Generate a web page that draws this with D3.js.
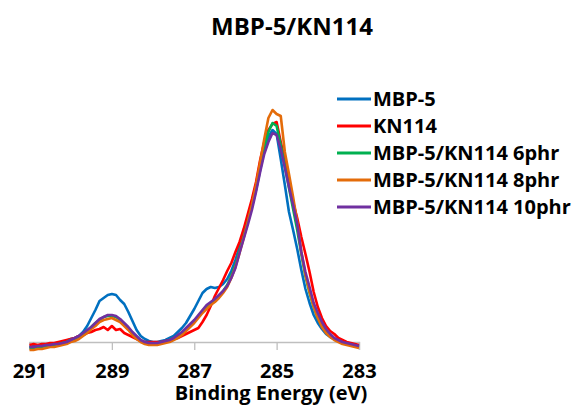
<!DOCTYPE html>
<html>
<head>
<meta charset="utf-8">
<script src="https://cdn.jsdelivr.net/npm/d3@7"></script>
<style>
body { margin: 0; background: #fff; }
text { font-family: "Open Sans", sans-serif; font-weight: bold; fill: #000; }
</style>
</head>
<body>
<svg id="chart" width="574" height="408"></svg>
<script>
// binding energy grid, 291 -> 283 eV in 0.1 eV steps
var energy = d3.range(0, 81).map(function(i){ return +(291 - i * 0.1).toFixed(1); });

var seriesNames = ["MBP-5", "KN114", "MBP-5/KN114 6phr", "MBP-5/KN114 8phr", "MBP-5/KN114 10phr"];
var seriesColors = ["#0070C0", "#FF0000", "#00B050", "#E46C0A", "#7030A0"];

var mbp5 = [-5,-4,-5,-4,-3,-3,-2,-1,0,1, 3,4,6,10,16,24,32,41,44,47,
	48,47,42,38,30,21,12,6,3,1, 0,0,1,2,4,6,10,14,19,26,
	33,41,49,53,55,54,55,58,63,71, 82,95,108,120,135,152,172,192,205,212,
	208,183,157,130,112,93,72,53,39,27, 19,13,8,5,3,1,0,-1,-2,-3, -4];
var kn114 = [-3,-2,-3,-2,-2,-1,-1,0,1,2, 3,4,6,7,9,10,12,13,15,12,
	16,12,13,9,7,5,3,1,0,0, 0,0,0,1,2,3,4,6,8,10,
	12,14,20,27,36,46,54,62,71,79, 90,100,113,128,143,160,182,200,212,218,
	220,200,182,160,140,124,105,88,70,50, 35,24,16,11,8,4,2,0,-1,-2, -3];
var p6phr = [-6,-6,-5,-5,-4,-3,-3,-2,-1,0, 2,3,5,8,11,15,19,22,25,26,
	26,25,22,18,14,9,5,2,-1,-2, -2,-2,-1,0,2,4,6,9,13,17,
	21,26,31,35,39,42,46,51,57,66, 77,91,105,120,136,154,175,195,210,219,
	216,197,176,154,133,112,88,66,49,35, 24,16,10,6,3,1,-1,-2,-3,-4, -5];
var p8phr = [-8,-8,-7,-7,-6,-5,-5,-4,-3,-2, 0,1,3,6,9,13,16,20,22,23,
	24,22,20,16,12,7,3,0,-2,-3, -3,-3,-2,-1,0,2,4,7,11,15,
	19,24,29,33,37,40,44,49,55,64, 75,89,104,120,137,157,180,203,224,232,
	228,226,190,168,145,120,90,67,50,35, 24,15,9,5,2,0,-2,-3,-4,-5, -6];
var p10phr = [-5,-5,-4,-4,-3,-3,-2,-2,-1,0, 2,4,6,9,12,15,19,23,25,27,
	27,26,23,19,15,10,6,2,0,-1, -1,-1,0,1,2,4,7,10,14,18,
	22,27,32,37,40,43,47,51,56,64, 74,89,103,117,132,150,170,188,200,209,
	207,193,174,155,137,118,90,70,55,39, 29,20,13,8,4,2,0,-1,-2,-3, -4];

var seriesValues = [mbp5, kn114, p6phr, p8phr, p10phr];
var xTicks = [291, 289, 287, 285, 283];

var svg = d3.select("#chart");

var x = d3.scaleLinear().domain([291, 283]).range([29.5, 359]);
var y = d3.scaleLinear().domain([0, 250]).range([342, 92]);

// title
svg.append("text")
	.attr("x", 292)
	.attr("y", 35)
	.attr("text-anchor", "middle")
	.style("font-size", "24px")
	.text("MBP-5/KN114");

// x axis
var xAxis = svg.append("g")
	.attr("transform", "translate(0," + y(0) + ")")
	.call(d3.axisBottom(x).tickValues(xTicks).tickSize(8).tickPadding(14).tickFormat(d3.format("d")));
xAxis.select(".domain").attr("stroke", "#BFBFBF").attr("stroke-width", 1.3);
xAxis.selectAll(".tick line").attr("stroke", "#BFBFBF").attr("stroke-width", 1.3);
xAxis.selectAll(".tick text")
	.style("font-family", "'Open Sans', sans-serif")
	.style("font-weight", "bold")
	.style("font-size", "20px")
	.attr("fill", "#000");

svg.append("text")
	.attr("x", 271)
	.attr("y", 400)
	.attr("text-anchor", "middle")
	.style("font-size", "20px")
	.text("Binding Energy (eV)");

// spectra
var line = d3.line()
	.x(function(d, i){ return x(energy[i]); })
	.y(function(d){ return y(d); });

seriesValues.forEach(function(vals, k){
	svg.append("path")
		.datum(vals)
		.attr("fill", "none")
		.attr("stroke", seriesColors[k])
		.attr("stroke-width", 2.6)
		.attr("stroke-linejoin", "round")
		.attr("d", line);
});

// legend
var legend = svg.append("g").attr("transform", "translate(337,99)");
seriesNames.forEach(function(name, k){
	var row = legend.append("g").attr("transform", "translate(0," + (k * 27) + ")");
	row.append("line")
		.attr("x1", 0).attr("x2", 34)
		.attr("y1", 0).attr("y2", 0)
		.attr("stroke", seriesColors[k])
		.attr("stroke-width", 2.8);
	row.append("text")
		.attr("x", 36)
		.attr("y", 7)
		.style("font-size", "20px")
		.text(name);
});
</script>
</body>
</html>
